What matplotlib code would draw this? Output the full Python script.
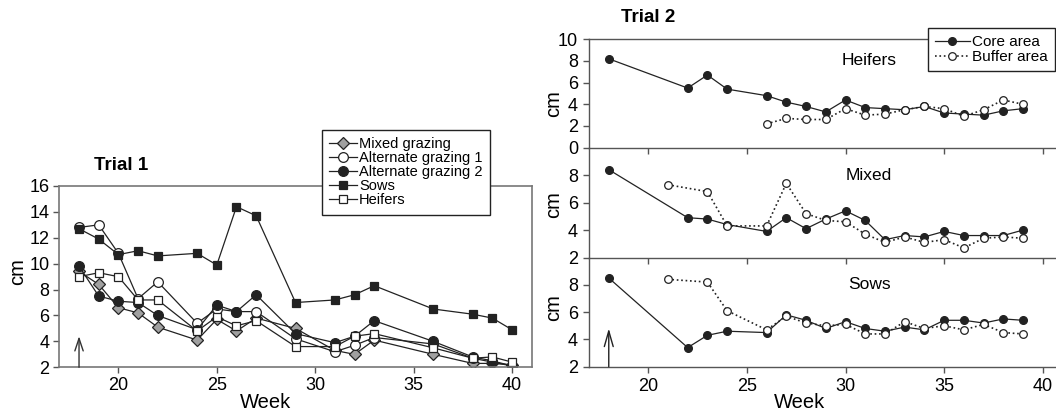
import matplotlib
matplotlib.use("Agg")
import matplotlib.pyplot as plt

plt.rcParams['font.family'] = ['Liberation Sans', 'DejaVu Sans']

# Trial 1 data (sward height, cm)
weeks1 = [18, 19, 20, 21, 22, 24, 25, 26, 27, 29, 31, 32, 33, 36, 38, 39, 40]
mixed = [9.4, 8.4, 6.6, 6.2, 5.1, 4.1, 5.7, 4.8, 5.8, 5.0, 3.3, 3.0, 4.1, 3.0, 2.3, 2.3, 2.2]
alt1 = [12.8, 13.0, 10.8, 7.3, 8.6, 5.4, 6.5, 6.3, 6.3, 4.2, 3.2, 3.7, 4.3, 3.8, 2.7, 2.4, 2.1]
alt2 = [9.8, 7.5, 7.1, 7.0, 6.0, 4.9, 6.8, 6.3, 7.6, 4.6, 3.9, 4.4, 5.6, 4.0, 2.8, 2.5, 2.1]
sows1 = [12.7, 11.9, 10.7, 11.0, 10.6, 10.8, 9.9, 14.4, 13.7, 7.0, 7.2, 7.6, 8.3, 6.5, 6.1, 5.8, 4.9]
heifers1 = [9.0, 9.3, 9.0, 7.2, 7.2, 4.8, 5.9, 5.2, 5.6, 3.6, 3.6, 4.4, 4.6, 3.5, 2.7, 2.8, 2.4]

# Trial 2 data
weeks_core = [18, 22, 23, 24, 26, 27, 28, 29, 30, 31, 32, 33, 34, 35, 36, 37, 38, 39]
heif_core = [8.2, 5.5, 6.7, 5.4, 4.8, 4.2, 3.8, 3.3, 4.4, 3.7, 3.6, 3.5, 3.8, 3.2, 3.1, 3.0, 3.4, 3.6]
mix_core = [8.4, 4.9, 4.8, 4.4, 3.9, 4.9, 4.1, 4.8, 5.4, 4.7, 3.3, 3.6, 3.5, 3.9, 3.6, 3.6, 3.6, 4.0]
sows_core = [8.5, 3.4, 4.3, 4.6, 4.5, 5.8, 5.4, 4.8, 5.3, 4.8, 4.6, 4.9, 4.7, 5.4, 5.4, 5.2, 5.5, 5.4]

weeks_heif_buf = [26, 27, 28, 29, 30, 31, 32, 33, 34, 35, 36, 37, 38, 39]
heif_buf = [2.2, 2.7, 2.6, 2.6, 3.6, 3.0, 3.1, 3.5, 3.8, 3.6, 2.9, 3.5, 4.4, 4.0]
weeks_buf = [21, 23, 24, 26, 27, 28, 29, 30, 31, 32, 33, 34, 35, 36, 37, 38, 39]
mix_buf = [7.3, 6.8, 4.3, 4.3, 7.4, 5.2, 4.7, 4.6, 3.7, 3.1, 3.5, 3.1, 3.3, 2.7, 3.4, 3.5, 3.4]
sows_buf = [8.4, 8.2, 6.1, 4.7, 5.7, 5.2, 5.0, 5.1, 4.4, 4.4, 5.3, 4.8, 5.0, 4.7, 5.1, 4.5, 4.4]

line_c = '#222222'
spine_c = '#555555'

fig = plt.figure(figsize=(10.56, 4.16), dpi=100)

# ---- Trial 1 ----
ax = fig.add_axes([0.0562, 0.1171, 0.4473, 0.4358])
kw = dict(color=line_c, lw=0.9, mew=0.9, mec=line_c)
ax.plot(weeks1, mixed, marker='D', ms=6, mfc='#a0a0a0', label='Mixed grazing', **kw)
ax.plot(weeks1, alt1, marker='o', ms=7, mfc='white', label='Alternate grazing 1', **kw)
ax.plot(weeks1, alt2, marker='o', ms=7, mfc=line_c, label='Alternate grazing 2', **kw)
ax.plot(weeks1, sows1, marker='s', ms=6, mfc=line_c, label='Sows', **kw)
ax.plot(weeks1, heifers1, marker='s', ms=6, mfc='white', label='Heifers', **kw)
ax.set_xlim(17, 41)
ax.set_ylim(2, 16)
ax.set_xticks([20, 25, 30, 35, 40])
ax.set_yticks(range(2, 17, 2))
ax.tick_params(direction='out', length=4, width=1, labelsize=13, color=spine_c, pad=3)
for s in ax.spines.values():
    s.set_color('#777777')
    s.set_linewidth(1.2)
ax.annotate('', xy=(18, 4.4), xytext=(18, 2),
            arrowprops=dict(arrowstyle='->,head_length=0.6,head_width=0.2',
                            lw=1, color='#333333', mutation_scale=15,
                            shrinkA=0, shrinkB=0))
leg = ax.legend(loc='upper left', bbox_to_anchor=(0.3049, 0.6875),
                bbox_transform=fig.transFigure, fontsize=10.5, frameon=True,
                fancybox=False, framealpha=1, edgecolor='#222222',
                labelspacing=0.0, borderpad=0.5, handlelength=1.9,
                handletextpad=0.15, borderaxespad=0)
leg.get_frame().set_linewidth(1)

fig.text(121 / 1056, 1 - 165 / 416, 'Trial 1', fontsize=13.5, fontweight='bold',
         ha='center', va='center')
fig.text(17.4 / 1056, 1 - 271.5 / 416, 'cm', fontsize=14.5, rotation=90,
         ha='center', va='center')
fig.text(266 / 1056, 1 - 402 / 416, 'Week', fontsize=14.5, ha='center', va='center')

# ---- Trial 2 ----
panels = [
    ('Heifers', weeks_heif_buf, heif_core, heif_buf, (0, 10), range(0, 11, 2), 0.645, 0.2606, 104),
    ('Mixed', weeks_buf, mix_core, mix_buf, (2, 10), [2, 4, 6, 8], 0.381, 0.264, 205),
    ('Sows', weeks_buf, sows_core, sows_buf, (2, 10), [2, 4, 6, 8], 0.1185, 0.2625, 308),
]
axes2 = []
for i, (name, wb, core, buf, ylim, yt, bot, h, cm_y) in enumerate(panels):
    a = fig.add_axes([0.5578, bot, 0.4422, h])
    a.plot(weeks_core, core, color=line_c, lw=0.9, marker='o', ms=5.5,
           mfc=line_c, mec=line_c, label='Core area')
    a.plot(wb, buf, color=line_c, lw=1.2, ls=':', marker='o', ms=5.5,
           mfc='white', mec=line_c, mew=0.9, label='Buffer area')
    a.set_xlim(17, 40.67)
    a.set_ylim(*ylim)
    a.set_yticks(list(yt))
    a.set_xticks([20, 25, 30, 35, 40])
    a.tick_params(direction='out', length=4, width=1, labelsize=13, color=spine_c, pad=4)
    if i < 2:
        a.tick_params(axis='x', labelbottom=False)
    a.spines['right'].set_visible(False)
    if i > 0:
        a.spines['top'].set_visible(False)
    for s in a.spines.values():
        s.set_color(spine_c)
        s.set_linewidth(1)
    a.patch.set_alpha(0)
    a.text(31.2, 8.0, name, fontsize=12.5, ha='center', va='center')
    fig.text(554 / 1056, 1 - cm_y / 416, 'cm', fontsize=14.5, rotation=90,
             ha='center', va='center')
    axes2.append(a)

axes2[2].annotate('', xy=(18, 4.8), xytext=(18, 2),
                  arrowprops=dict(arrowstyle='->,head_length=0.7,head_width=0.2',
                                  lw=1, color='#222222', mutation_scale=16,
                                  shrinkA=0, shrinkB=0))
leg2 = axes2[0].legend(loc='upper left', bbox_to_anchor=(0.8788, 0.932),
                       bbox_transform=fig.transFigure, fontsize=11, frameon=True,
                       fancybox=False, framealpha=1, edgecolor='#222222',
                       labelspacing=0.05, borderpad=0.45, handlelength=2.3,
                       handletextpad=0.15, borderaxespad=0)
leg2.get_frame().set_linewidth(1)

fig.text(648 / 1056, 1 - 18 / 416, 'Trial 2', fontsize=13.5, fontweight='bold',
         ha='center', va='center')
fig.text(800 / 1056, 1 - 402 / 416, 'Week', fontsize=14.5, ha='center', va='center')

fig.savefig('out.png', dpi=100)
